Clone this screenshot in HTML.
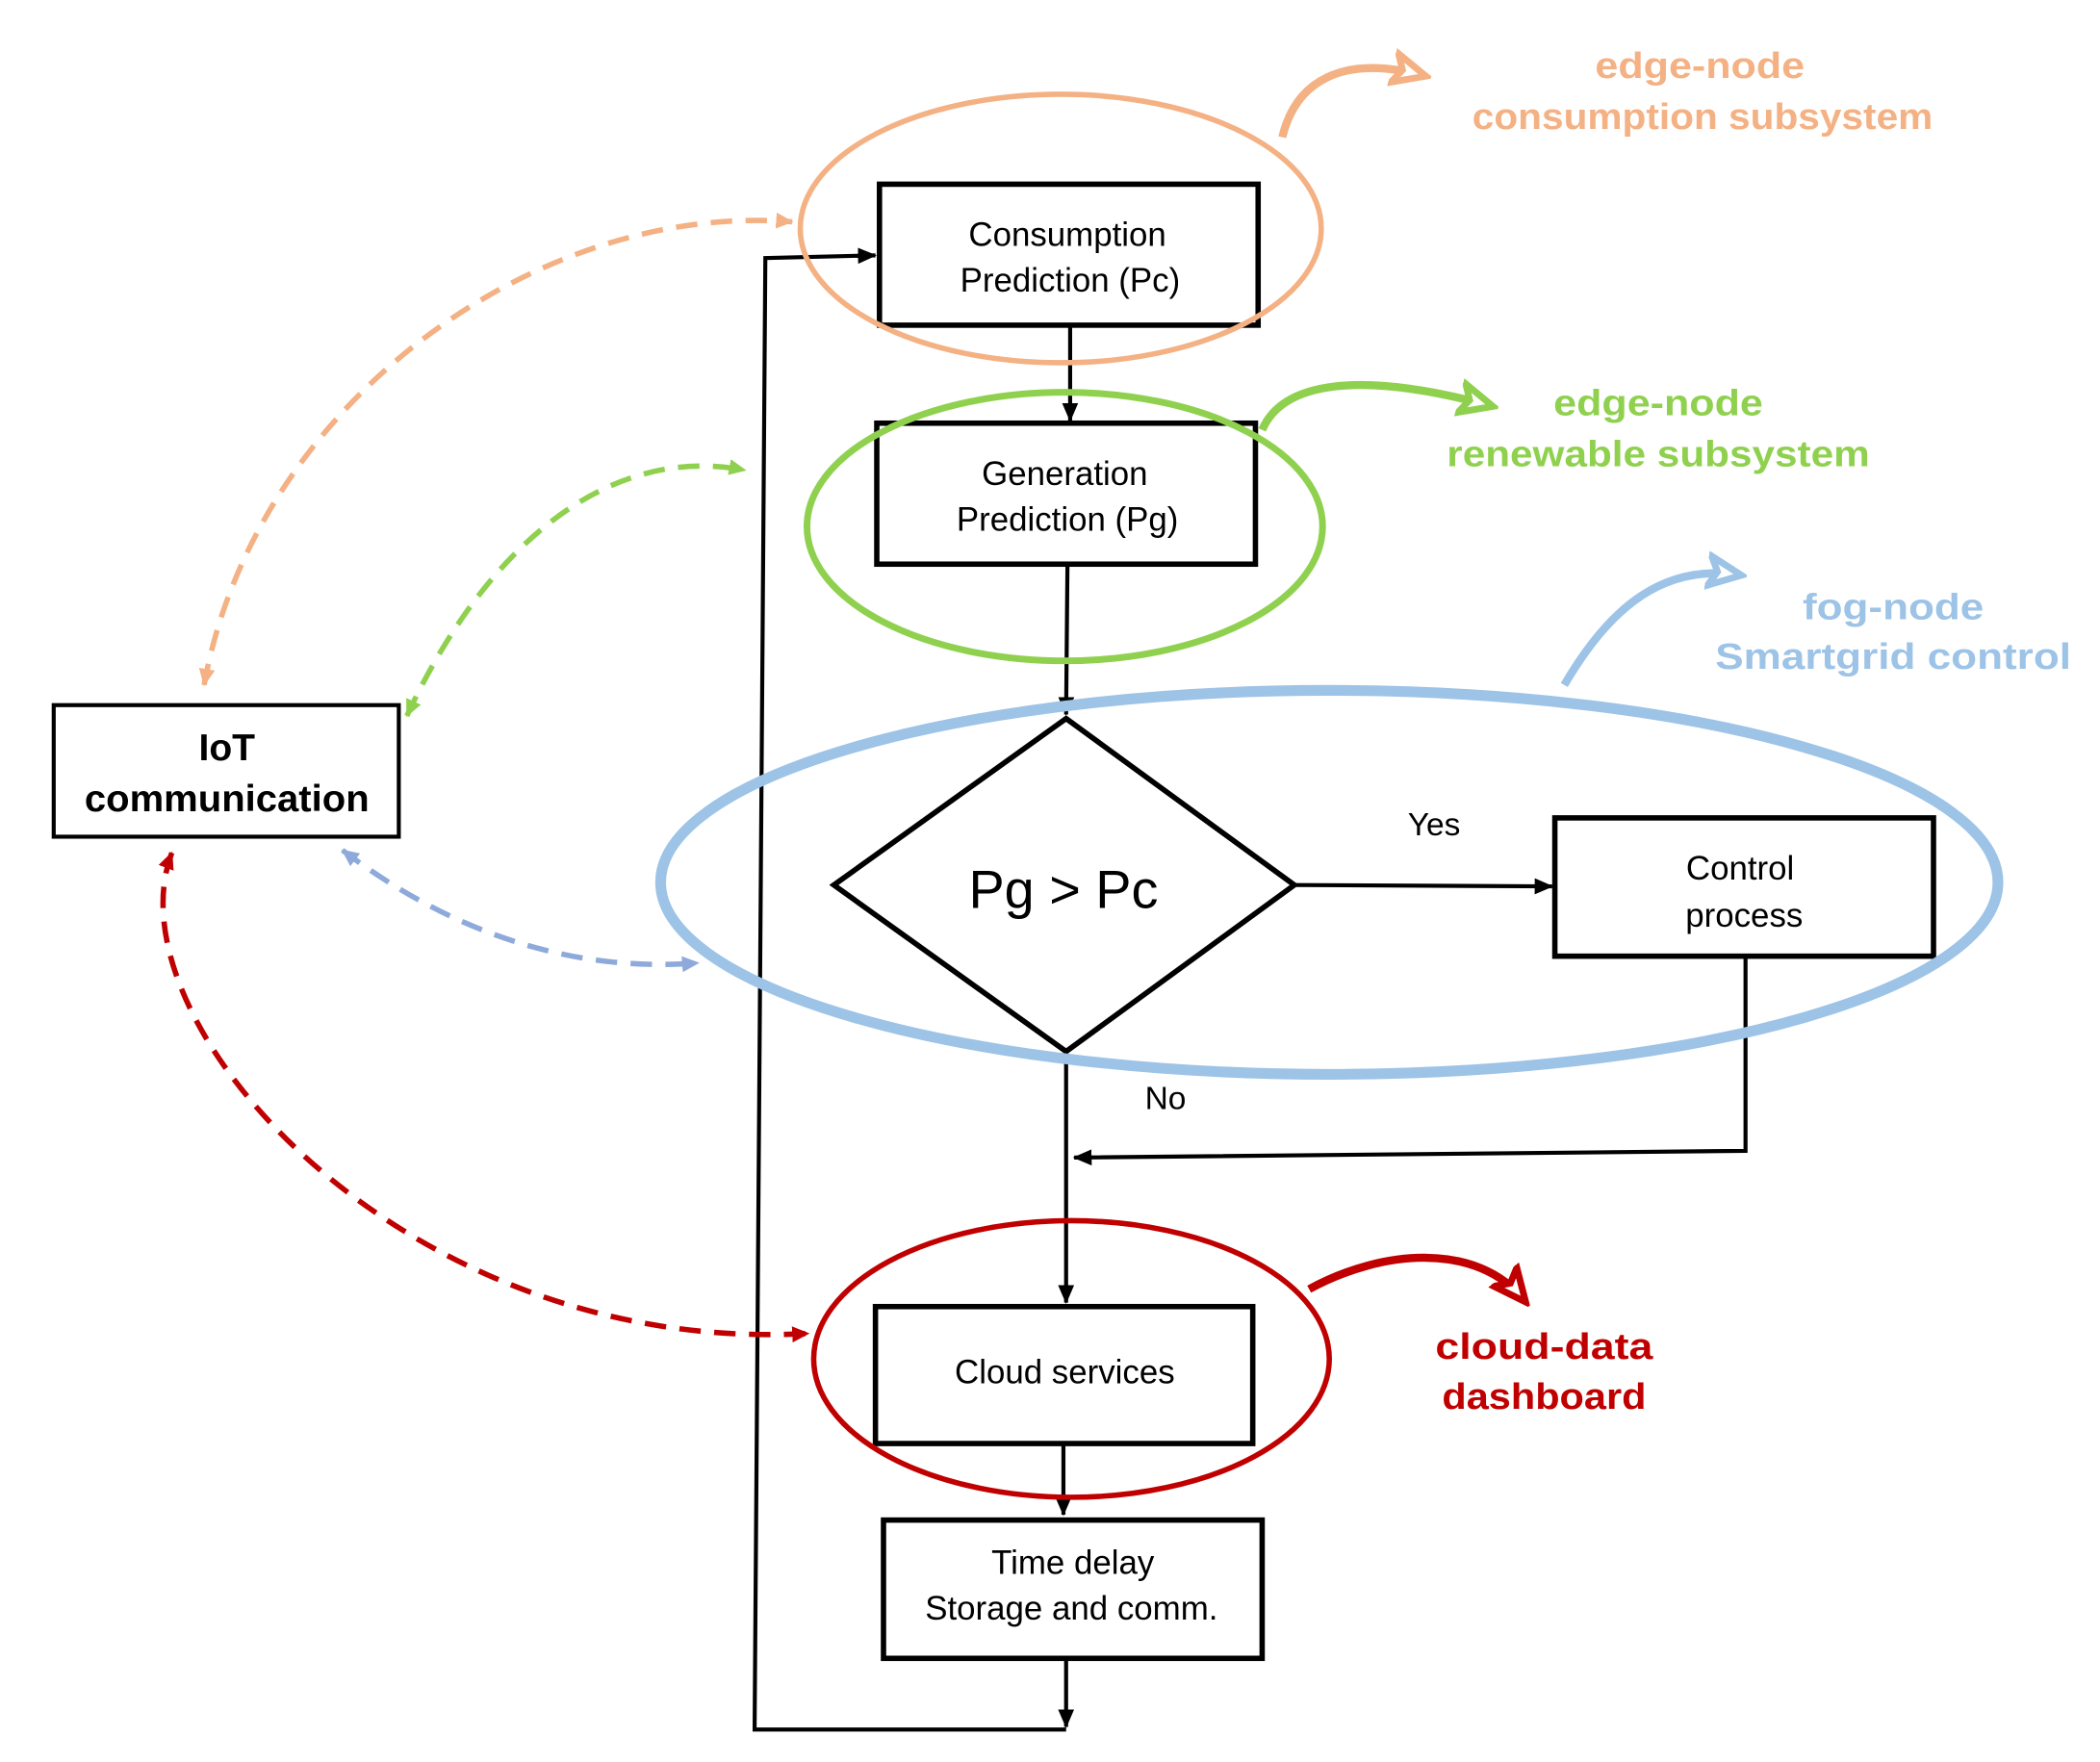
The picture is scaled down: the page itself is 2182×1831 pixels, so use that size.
<!DOCTYPE html>
<html><head><meta charset="utf-8"><style>
html,body{margin:0;padding:0;background:#fff;}
svg{display:block;}
.t{font-family:"Liberation Sans",sans-serif;fill:#000;text-anchor:middle;}
.h{font-family:"Liberation Sans Narrow","Liberation Sans",sans-serif;font-weight:bold;text-anchor:middle;}
</style></head><body>
<svg width="2182" height="1831" viewBox="0 0 1564 1312" xmlns="http://www.w3.org/2000/svg">
<defs>
<marker id="ab" markerWidth="14" markerHeight="14" refX="13" refY="7" orient="auto" markerUnits="userSpaceOnUse"><path d="M0,1 L14,7 L0,13 z" fill="#000"/></marker>
<marker id="ao" markerWidth="14" markerHeight="14" refX="12" refY="7" orient="auto-start-reverse" markerUnits="userSpaceOnUse"><path d="M0,1 L13,7 L0,13 z" fill="#f4b183"/></marker>
<marker id="ag" markerWidth="14" markerHeight="14" refX="12" refY="7" orient="auto-start-reverse" markerUnits="userSpaceOnUse"><path d="M0,1 L13,7 L0,13 z" fill="#8fd14f"/></marker>
<marker id="abl" markerWidth="14" markerHeight="14" refX="12" refY="7" orient="auto-start-reverse" markerUnits="userSpaceOnUse"><path d="M0,1 L13,7 L0,13 z" fill="#8eaadb"/></marker>
<marker id="ar" markerWidth="14" markerHeight="14" refX="12" refY="7" orient="auto-start-reverse" markerUnits="userSpaceOnUse"><path d="M0,1 L13,7 L0,13 z" fill="#c00000"/></marker>
<marker id="bo" markerWidth="30" markerHeight="30" refX="24" refY="15" orient="auto" markerUnits="userSpaceOnUse"><path d="M2,4 L26,15 L2,26 L8,15 z" fill="#fff" stroke="#f4b183" stroke-width="5"/></marker>
<marker id="bg" markerWidth="30" markerHeight="30" refX="24" refY="15" orient="auto" markerUnits="userSpaceOnUse"><path d="M2,4 L26,15 L2,26 L8,15 z" fill="#fff" stroke="#8fd14f" stroke-width="5"/></marker>
<marker id="bb" markerWidth="30" markerHeight="30" refX="24" refY="15" orient="auto" markerUnits="userSpaceOnUse"><path d="M2,4 L26,15 L2,26 L8,15 z" fill="#fff" stroke="#9dc3e6" stroke-width="5"/></marker>
<marker id="br" markerWidth="30" markerHeight="30" refX="24" refY="15" orient="auto" markerUnits="userSpaceOnUse"><path d="M2,4 L26,15 L2,26 L8,15 z" fill="#fff" stroke="#c00000" stroke-width="5"/></marker>
</defs>
<g stroke="#000" stroke-width="4" fill="#fff">
<rect x="655" y="137" width="282" height="105"/>
<rect x="653" y="315" width="282" height="105"/>
<polygon points="794,535 964,659 794,783 621,659"/>
<rect x="1158" y="609" width="282" height="103"/>
<rect x="652" y="973" width="281" height="102"/>
<rect x="658" y="1132" width="282" height="103"/>
<rect x="40" y="525" width="257" height="98" stroke-width="3"/>
</g>
<g stroke="#000" stroke-width="3" fill="none">
<line x1="797" y1="242" x2="797" y2="313" marker-end="url(#ab)"/>
<line x1="795" y1="420" x2="794" y2="532" marker-end="url(#ab)"/>
<line x1="964" y1="659" x2="1156" y2="660" marker-end="url(#ab)"/>
<line x1="794" y1="783" x2="794" y2="970" marker-end="url(#ab)"/>
<polyline points="1300,712 1300,857 800,862" marker-end="url(#ab)"/>
<line x1="792" y1="1075" x2="792" y2="1128" marker-end="url(#ab)"/>
<line x1="794" y1="1235" x2="794" y2="1286" marker-end="url(#ab)"/>
<polyline points="794,1288 562,1288 570,192 652,190" marker-end="url(#ab)"/>
</g>
<text class="t" x="795" y="183" font-size="25">Consumption</text>
<text class="t" x="797" y="217" font-size="25">Prediction (Pc)</text>
<text class="t" x="793" y="361" font-size="25">Generation</text>
<text class="t" x="795" y="395" font-size="25">Prediction (Pg)</text>
<text class="t" x="792" y="676" font-size="40">Pg &gt; Pc</text>
<text class="t" x="1296" y="655" font-size="25">Control</text>
<text class="t" x="1299" y="690" font-size="25">process</text>
<text class="t" x="793" y="1030" font-size="25">Cloud services</text>
<text class="t" x="799" y="1172" font-size="25">Time delay</text>
<text class="t" x="798" y="1206" font-size="25">Storage and comm.</text>
<text class="t" x="1068" y="622" font-size="24">Yes</text>
<text class="t" x="868" y="826" font-size="24">No</text>
<text class="h" x="169" y="566" font-size="28" fill="#000">IoT</text>
<text class="h" x="169" y="604" font-size="28" fill="#000" textLength="212" lengthAdjust="spacingAndGlyphs">communication</text>
<ellipse cx="790" cy="170" rx="194" ry="100" fill="none" stroke="#f4b183" stroke-width="4"/>
<ellipse cx="793" cy="392" rx="192" ry="100" fill="none" stroke="#8fd14f" stroke-width="5"/>
<ellipse cx="990" cy="657" rx="498" ry="143" fill="none" stroke="#9dc3e6" stroke-width="8"/>
<ellipse cx="798" cy="1012" rx="192" ry="103" fill="none" stroke="#c00000" stroke-width="4"/>
<path d="M955,102 C965,60 1000,40 1060,56" fill="none" stroke="#f4b183" stroke-width="6" marker-end="url(#bo)"/>
<path d="M940,320 C955,285 1010,275 1110,302" fill="none" stroke="#8fd14f" stroke-width="6" marker-end="url(#bg)"/>
<path d="M1165,510 C1200,450 1240,420 1295,428" fill="none" stroke="#9dc3e6" stroke-width="6" marker-end="url(#bb)"/>
<path d="M975,960 C1030,930 1100,925 1135,968" fill="none" stroke="#c00000" stroke-width="6" marker-end="url(#br)"/>
<text class="h" x="1266" y="58" font-size="27" fill="#f4b183" textLength="156" lengthAdjust="spacingAndGlyphs">edge-node</text>
<text class="h" x="1268" y="96" font-size="27" fill="#f4b183" textLength="343" lengthAdjust="spacingAndGlyphs">consumption subsystem</text>
<text class="h" x="1235" y="309" font-size="27" fill="#8fd14f" textLength="156" lengthAdjust="spacingAndGlyphs">edge-node</text>
<text class="h" x="1235" y="347" font-size="27" fill="#8fd14f" textLength="315" lengthAdjust="spacingAndGlyphs">renewable subsystem</text>
<text class="h" x="1410" y="461" font-size="27" fill="#9dc3e6" textLength="135" lengthAdjust="spacingAndGlyphs">fog-node</text>
<text class="h" x="1410" y="498" font-size="27" fill="#9dc3e6" textLength="265" lengthAdjust="spacingAndGlyphs">Smartgrid control</text>
<text class="h" x="1150" y="1012" font-size="27" fill="#c00000" textLength="162" lengthAdjust="spacingAndGlyphs">cloud-data</text>
<text class="h" x="1150" y="1049" font-size="27" fill="#c00000" textLength="152" lengthAdjust="spacingAndGlyphs">dashboard</text>
<g fill="none" stroke-width="4" stroke-dasharray="16,10">
<path d="M152,510 C190,300 400,150 590,165" stroke="#f4b183" marker-start="url(#ao)" marker-end="url(#ao)"/>
<path d="M303,533 C360,410 450,330 555,350" stroke="#8fd14f" marker-start="url(#ag)" marker-end="url(#ag)"/>
<path d="M255,633 C330,690 420,725 520,717" stroke="#8eaadb" marker-start="url(#abl)" marker-end="url(#abl)"/>
<path d="M128,635 C80,760 300,1010 602,993" stroke="#c00000" marker-start="url(#ar)" marker-end="url(#ar)"/>
</g>
</svg>
</body></html>
